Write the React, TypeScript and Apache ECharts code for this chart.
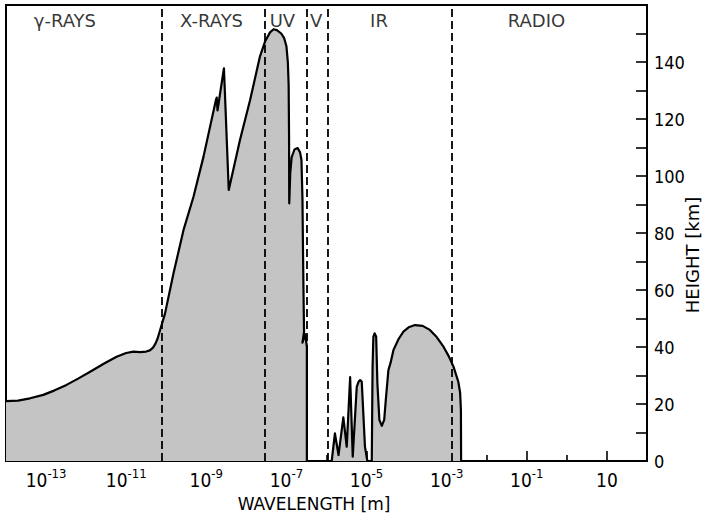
import React, { useEffect, useRef } from "react";
import * as echarts from "echarts";

// log10 of wavelength [m] and height [km] of the absorption curve
const wavelengthExp = [
  -14.0, -13.7, -13.4, -13.07, -12.8, -12.49, -12.2, -11.9, -11.55, -11.24, -11.0, -10.82, -10.66, -10.5, -10.41,
  -10.33, -10.28, -10.22, -10.16, -10.03, -9.82, -9.57, -9.32, -9.07, -8.76, -8.74, -8.72, -8.69, -8.56, -8.44,
  -8.16, -7.91, -7.66, -7.53, -7.41, -7.32, -7.24, -7.13, -7.06, -7.0, -6.965, -6.945, -6.935, -6.93,
  -6.905, -6.87, -6.8, -6.72, -6.66, -6.625, -6.6, -6.585, -6.57, -6.56, -6.6, -6.53, -6.49, -6.49,
  -5.87, -5.79, -5.7, -5.58, -5.495, -5.41, -5.345, -5.245, -5.2, -5.16, -5.12, -5.04, -4.98, -4.87,
  -4.85, -4.83, -4.8, -4.76, -4.73, -4.68, -4.62, -4.56, -4.52, -4.455, -4.4, -4.33, -4.2, -4.08,
  -3.95, -3.79, -3.6, -3.42, -3.25, -3.08, -2.95, -2.83, -2.71, -2.665, -2.645, -2.64, 2.0,
];
const heightKm = [
  21.0, 21.2, 22.0, 23.2, 24.7, 26.7, 28.9, 31.3, 34.2, 36.6, 37.9, 38.4, 38.2, 38.4, 38.8,
  39.8, 40.9, 42.8, 45.6, 51.8, 65.8, 81.0, 92.7, 106.8, 126.7, 127.5, 123.0, 125.8, 137.8, 95.1,
  112.6, 126.5, 142.0, 147.3, 150.4, 151.5, 151.2, 150.0, 148.5, 145.5, 140.0, 132.0, 115.0, 90.4,
  101.0, 106.5, 109.3, 109.8, 108.3, 105.6, 92.0, 72.0, 55.0, 45.4, 41.5, 44.5, 40.0, 0,
  0, 9.7, 2.1, 15.3, 5.0, 29.4, 1.5, 26.0, 27.8, 28.4, 27.8, 5.0, 0, 0,
  33.0, 43.6, 44.8, 43.6, 27.3, 14.4, 12.3, 14.4, 21.4, 31.9, 34.5, 38.9, 42.8, 45.4,
  46.9, 47.7, 47.4, 46.0, 43.5, 40.1, 36.8, 33.1, 27.8, 24.0, 18.0, 0, 0,
];

// spectral region boundaries (log10 m) and region labels
const boundaryExp = [-10.1, -7.535, -6.486, -5.96, -2.87];
const regionNames = ["\u03b3-RAYS", "X-RAYS", "UV", "V", "IR", "RADIO"];
const regionLabelExp = [-12.53, -8.87, -7.1, -6.26, -4.69, -0.76];
const regionLabelKm = [154.4, 154.4, 154.4, 154.4, 154.4, 154.4];

// axis ticks
const majorTickExp = [-13, -11, -9, -7, -5, -3, -1, 1];
const minorTickExp = [-12, -10, -8, -6, -4, -2, 0];
const heightLabels = [0, 20, 40, 60, 80, 100, 120, 140];

const COND = "'DejaVu Sans Condensed', 'Liberation Sans', sans-serif";
const SANS = "'DejaVu Sans', 'Liberation Sans', sans-serif";

export default function App() {
  const ref = useRef<HTMLDivElement>(null);

  useEffect(() => {
    if (!ref.current) return;
    const chart = echarts.init(ref.current, undefined, { renderer: "svg" });
    const curve = wavelengthExp.map((x, i) => [x, heightKm[i]]);
    const labels = regionLabelExp.map((x, i) => ({ value: [x, regionLabelKm[i]], name: regionNames[i] }));

    chart.setOption({
      animation: false,
      backgroundColor: "#ffffff",
      grid: {
        left: 6,
        right: 57,
        top: 5,
        bottom: 54,
        show: true,
        borderColor: "#000",
        borderWidth: 2,
        backgroundColor: "transparent",
        containLabel: false,
      },
      xAxis: [
        {
          type: "value",
          min: -14,
          max: 2,
          position: "bottom",
          splitLine: { show: false },
          axisLine: { show: true, onZero: false, lineStyle: { color: "#000", width: 2 } },
          axisTick: {
            show: true,
            inside: true,
            length: 10,
            customValues: majorTickExp,
            lineStyle: { color: "#000", width: 1.6 },
          },
          axisLabel: {
            show: true,
            customValues: majorTickExp,
            margin: 6,
            color: "#000",
            formatter: (v: number) => (v === 1 ? "{a|10}" : `{a|10}{b|${v}}`),
            rich: {
              a: { fontSize: 19, lineHeight: 26, fontFamily: COND, color: "#000" },
              b: { fontSize: 13, lineHeight: 13, verticalAlign: "top", fontFamily: COND, color: "#000" },
            },
          },
        },
        {
          type: "value",
          min: -14,
          max: 2,
          position: "bottom",
          offset: 0,
          splitLine: { show: false },
          axisLine: { show: false, onZero: false },
          axisTick: {
            show: true,
            inside: true,
            length: 6,
            customValues: minorTickExp,
            lineStyle: { color: "#000", width: 1.6 },
          },
          axisLabel: { show: false },
        },
      ],
      yAxis: {
        type: "value",
        position: "right",
        min: 0,
        max: 160,
        interval: 10,
        splitLine: { show: false },
        axisLine: { show: true, onZero: false, lineStyle: { color: "#000", width: 2 } },
        axisTick: { show: true, inside: true, length: 11, lineStyle: { color: "#000", width: 1.6 } },
        axisLabel: {
          margin: 7,
          fontSize: 18,
          fontFamily: COND,
          color: "#000",
          formatter: (v: number) => (heightLabels.indexOf(v) >= 0 ? String(v) : ""),
        },
      },
      graphic: [
        {
          type: "text",
          x: 314,
          y: 504,
          style: {
            text: "WAVELENGTH [m]",
            fontSize: 17,
            fontFamily: SANS,
            fill: "#000",
            align: "center",
            verticalAlign: "middle",
          },
        },
        {
          type: "text",
          x: 692,
          y: 255,
          rotation: Math.PI / 2,
          style: {
            text: "HEIGHT [km]",
            fontSize: 18,
            fontFamily: SANS,
            fill: "#000",
            align: "center",
            verticalAlign: "middle",
          },
        },
      ],
      series: [
        {
          type: "line",
          data: curve,
          xAxisIndex: 0,
          symbol: "none",
          smooth: false,
          lineStyle: { color: "#000", width: 2.2, join: "round" },
          areaStyle: { color: "#c4c4c4", opacity: 1 },
          markLine: {
            silent: true,
            symbol: ["none", "none"],
            label: { show: false },
            lineStyle: { color: "#000", type: [8, 4], width: 1.8 },
            data: boundaryExp.map((x) => ({ xAxis: x })),
          },
          z: 2,
        },
        {
          type: "scatter",
          data: labels,
          xAxisIndex: 0,
          symbolSize: 1,
          itemStyle: { color: "transparent" },
          label: {
            show: true,
            position: "inside",
            formatter: (p: any) => p.name,
            fontSize: 18,
            fontFamily: SANS,
            color: "#000",
          },
          z: 3,
        },
      ],
    });

    return () => chart.dispose();
  }, []);

  return (
    <div
      ref={ref}
      style={{ position: "fixed", left: 0, top: 0, width: 704, height: 515, background: "#fff" }}
    />
  );
}
